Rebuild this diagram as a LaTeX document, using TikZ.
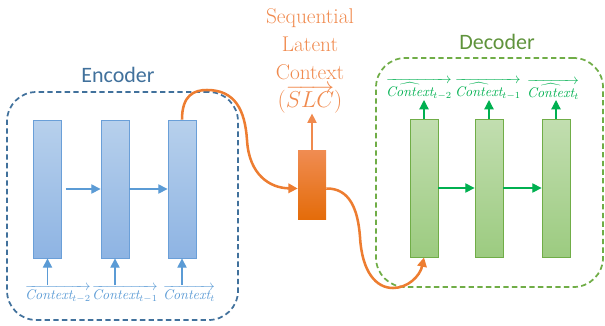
\documentclass[tikz,border=0pt]{standalone}
\usepackage{fontspec}
\setsansfont{Carlito}
\usetikzlibrary{arrows.meta,calc}
\definecolor{encline}{HTML}{41719C}
\definecolor{encbarline}{HTML}{6A9FD8}
\definecolor{enctop}{HTML}{B7D0EC}
\definecolor{encbot}{HTML}{8EB4E3}
\definecolor{encarr}{HTML}{5B9BD5}
\definecolor{decline}{HTML}{70AD47}
\definecolor{dectop}{HTML}{C2DEB0}
\definecolor{decbot}{HTML}{9CCB80}
\definecolor{decarr}{HTML}{00B050}
\definecolor{orng}{HTML}{ED7D31}
\definecolor{orngtxt}{HTML}{F08A4E}
\definecolor{orngtop}{HTML}{F08C52}
\definecolor{orngbot}{HTML}{E46C0A}
\begin{document}
\begin{tikzpicture}[x=0.75pt,y=-0.75pt,
  bar/.style={minimum width=21pt,minimum height=103.5pt,inner sep=0pt,line width=0.6pt},
  encbar/.style={bar,draw=encbarline,top color=enctop,bottom color=encbot},
  decbar/.style={bar,draw=decline,top color=dectop,bottom color=decbot},
  grpbox/.style={rounded corners=22pt,dashed,line width=1.3pt,dash pattern=on 4pt off 2.5pt,inner sep=0pt},
  encarrow/.style={draw=encarr,line width=0.9pt,-{Triangle[length=7pt,width=7pt]}},
  decarrow/.style={draw=decarr,line width=0.9pt,-{Triangle[length=7pt,width=7pt]}},
  orarrow/.style={draw=orng,line width=1.9pt,-{Triangle[length=7pt,width=7pt]}},
  enclabel/.style={text=encarr,font=\fontsize{10.5}{12}\selectfont,inner sep=0pt},
  declabel/.style={text=decarr,font=\fontsize{10.5}{12}\selectfont,inner sep=0pt},
  title/.style={font=\sffamily\fontsize{16.5}{20}\selectfont}
]
\useasboundingbox (0,0) rectangle (605,325);

% group boxes
\node[grpbox,draw=encline,minimum width=173.25pt,minimum height=171pt] (enc) at (122.5,206) {};
\node[grpbox,draw=decline,minimum width=170.25pt,minimum height=171.75pt] (dec) at (489.5,172.5) {};
\node[title,text=encline] (enct) at (118,75) {Encoder};
\node[title,text=decline!85!black] (dect) at (497,42) {Decoder};

% encoder bars
\node[encbar] (e1) at (47.5,189) {};
\node[encbar] (e2) at (115,189) {};
\node[encbar] (e3) at (182,189) {};
\draw[encarrow,shorten <=3pt] (e1) -- (e2);
\draw[encarrow,shorten <=0pt] (e2) -- (e3);

% encoder labels
\node[enclabel,anchor=north] (l1) at (58,285) {$\overrightarrow{\mathit{Context}_{t-2}}$};
\node[enclabel,anchor=north] (l2) at (125,285) {$\overrightarrow{\mathit{Context}_{t-1}}$};
\node[enclabel,anchor=north] (l3) at (189,285) {$\overrightarrow{\mathit{Context}_{t}}$};
\draw[encarrow] (e1.south |- l1.north) -- (e1.south);
\draw[encarrow] (e2.south |- l2.north) -- (e2.south);
\draw[encarrow] (e3.south |- l3.north) -- (e3.south);

% decoder bars
\node[decbar] (d1) at (424,188) {};
\node[decbar] (d2) at (489,188) {};
\node[decbar] (d3) at (556,188) {};
\draw[decarrow] (d1) -- (d2);
\draw[decarrow] (d2) -- (d3);

% decoder labels
\node[declabel,anchor=south] (m1) at (419,100) {$\overrightarrow{\widehat{\mathit{Context}}_{t-2}}$};
\node[declabel,anchor=south] (m2) at (488,100) {$\overrightarrow{\widehat{\mathit{Context}}_{t-1}}$};
\node[declabel,anchor=south] (m3) at (553,100) {$\overrightarrow{\widehat{\mathit{Context}}_{t}}$};
\draw[decarrow] (d1.north) -- (d1.north |- m1.south);
\draw[decarrow] (d2.north) -- (d2.north |- m2.south);
\draw[decarrow] (d3.north) -- (d3.north |- m3.south);

% SLC
\node[minimum width=21pt,minimum height=51.75pt,inner sep=0pt,top color=orngtop,bottom color=orngbot] (s) at (312,184.5) {};
\node[text=orngtxt,align=center,font=\fontsize{16}{21}\selectfont,inner sep=0pt] (st) at (310,61)
  {Sequential\\Latent\\Context\\$(\overrightarrow{SLC})$};
\draw[draw=orngtxt,line width=0.9pt,-{Triangle[length=7pt,width=7pt]}] (s.north) -- (s.north |- st.south);

% orange curves
\coordinate (sin) at ($(s.west)+(0,4)$);
\coordinate (sout) at ($(s.east)+(0,4)$);
\draw[orarrow] (e3.north) .. controls (182,95) and (194,90) .. (207,90)
  .. controls (235,90) and (245,110) .. (247,140)
  .. controls (249,175) and (270,188) .. (sin);
\draw[orarrow] (sout) .. controls (350,188) and (358,210) .. (360,237)
  .. controls (362,272) and (376,288) .. (393,288)
  .. controls (408,288) and (420,276) .. (d1.south);
\end{tikzpicture}
\end{document}
